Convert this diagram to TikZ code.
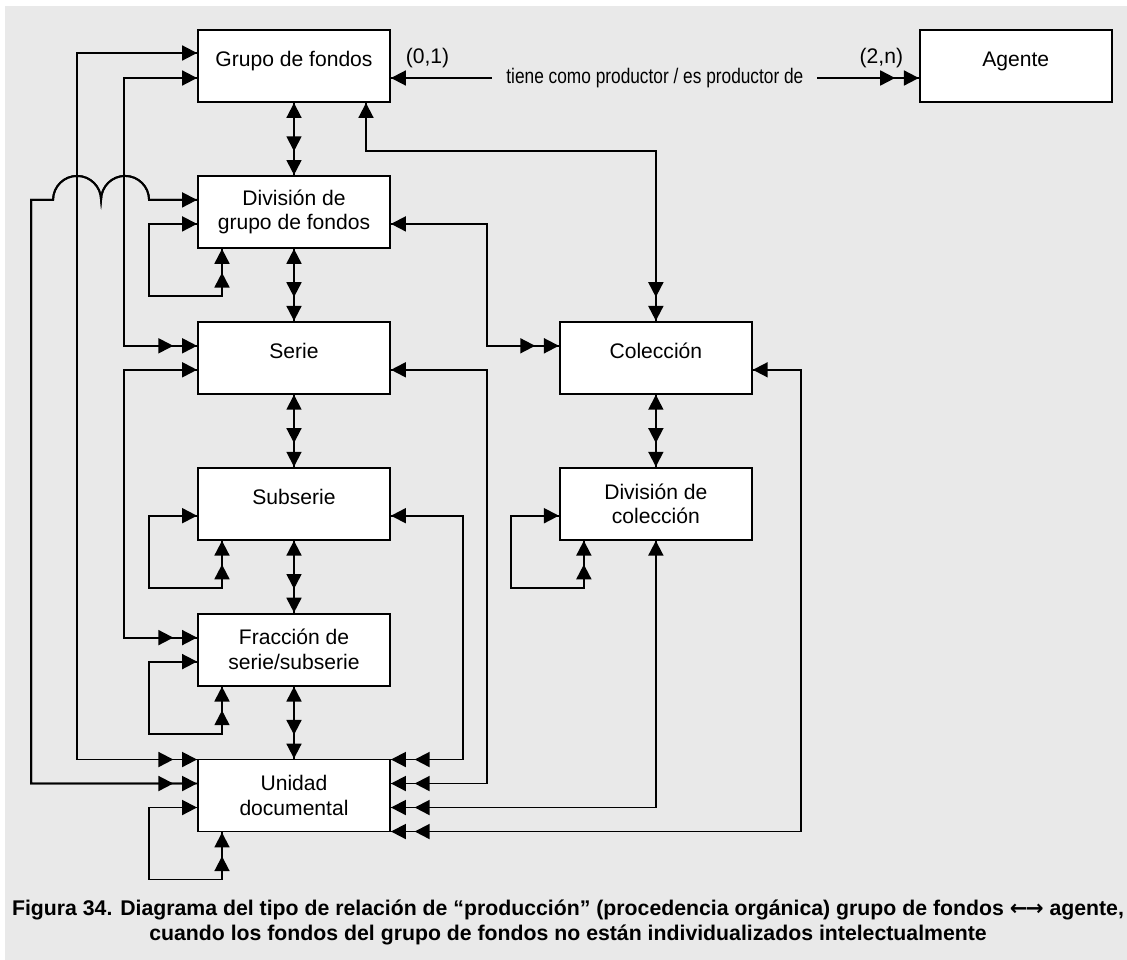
\documentclass[tikz,border=0pt]{standalone}
\usepackage{fontspec}
\setmainfont{Liberation Sans}
\newfontfamily\narrowfont[FakeStretch=0.82]{Liberation Sans}
\newfontfamily\arrowfont{DejaVu Sans}
\usetikzlibrary{arrows.meta,calc,positioning}
\definecolor{fgPanel}{RGB}{233,233,233}
\tikzset{
  one/.tip={Triangle[length=8.5pt,width=8.5pt]},
  many/.tip={Triangle[length=8.5pt,width=8.5pt,sep=5pt]Triangle[length=8.5pt,width=8.5pt]},
  box/.style={draw,fill=white,line width=1.1pt,minimum width=3.84cm,minimum height=1.44cm,
    inner sep=0pt,align=center,font=\fontsize{12}{14}\selectfont},
  oneline/.style={text height=8pt,text depth=7pt},
  link/.style={line width=1.1pt,one-many,postaction={draw,arrows=-}},
}

\begin{document}
\begin{tikzpicture}[x=0.02cm,y=-0.02cm,node distance=1.44cm]
  \useasboundingbox (0,0) rectangle (1127,960);
  \fill[fgPanel] (5,6) rectangle (1127,960);

  % entidades
  \node[box,oneline] (grupo) at (294,66) {Grupo de fondos};
  \node[box,below=of grupo] (divgrupo) {División de\\grupo de fondos};
  \node[box,oneline,below=of divgrupo] (serie) {Serie};
  \node[box,oneline,below=of serie] (subserie) {Subserie};
  \node[box,below=of subserie] (fraccion) {Fracción de\\serie/subserie};
  \node[box,below=of fraccion] (unidad) {Unidad\\documental};
  \node[box,oneline,right=3.36cm of serie] (coleccion) {Colección};
  \node[box,below=of coleccion] (divcoleccion) {División de\\colección};
  \node[box,oneline,right=10.56cm of grupo] (agente) {Agente};

  % jerarquia
  \foreach \a/\b in {grupo/divgrupo,divgrupo/serie,serie/subserie,subserie/fraccion,
                     fraccion/unidad,coleccion/divcoleccion}
    \draw[link] (\a) -- (\b);

  % relaciones recursivas
  \foreach \b in {divgrupo,subserie,fraccion,unidad,divcoleccion}
    \draw[link] ($(\b.west)+(0,12)$) -- ++(-48,0) -- ++(0,72) -| ($(\b.south)+(-72,0)$);

  % lado izquierdo
  \draw[link] ($(grupo.west)+(0,12)$) -- ++(-73,0) |- ($(serie.west)+(0,-12)$);
  \draw[link] ($(serie.west)+(0,12)$) -- ++(-73,0) |- ($(fraccion.west)+(0,-12)$);
  \draw[link] ($(grupo.west)+(0,-13)$) -- ++(-120,0) |- ($(unidad.west)+(0,-36)$);
  \draw[link] ($(divgrupo.west)+(0,-12)$) -- ++(-48,0)
    arc[start angle=0,end angle=180,radius=0.48cm]
    arc[start angle=0,end angle=180,radius=0.48cm]
    -- ++(-22,0) |- ($(unidad.west)+(0,-12)$);

  % lado derecho
  \draw[link] ($(grupo.south)+(72,0)$) -- ++(0,48) -| (coleccion.north);
  \draw[link] ($(divgrupo.east)+(0,12)$) -- ++(96,0) |- ($(coleccion.west)+(0,-12)$);
  \draw[link] ($(serie.east)+(0,12)$) -- ++(96,0) |- ($(unidad.east)+(0,-12)$);
  \draw[link] ($(subserie.east)+(0,12)$) -- ++(72,0) |- ($(unidad.east)+(0,-36)$);
  \draw[link] (divcoleccion.south) |- ($(unidad.east)+(0,12)$);
  \draw[link] ($(coleccion.east)+(0,12)$) -- ++(48,0) |- ($(unidad.east)+(0,36)$);

  % produccion
  \draw[link] ($(grupo.east)+(0,12)$) --
    node[fill=fgPanel,inner xsep=8pt,font=\narrowfont\fontsize{12}{14}\selectfont] (relacion)
      {tiene como productor / es productor de}
    node[at start,anchor=base west,xshift=0.16cm,yshift=0.3cm,font=\fontsize{12}{14}\selectfont] (card1) {(0,1)}
    node[at end,anchor=base east,xshift=-0.18cm,yshift=0.3cm,font=\fontsize{12}{14}\selectfont] (card2) {(2,n)}
    ($(agente.west)+(0,12)$);

  \node[align=center,font=\bfseries\fontsize{12.1}{14.2}\selectfont] (leyenda) at (568,922)
    {Figura 34. Diagrama del tipo de relación de “producción” (procedencia orgánica) grupo de fondos {\arrowfont←\kern-1pt→} agente,\\
     cuando los fondos del grupo de fondos no están individualizados intelectualmente};
\end{tikzpicture}
\end{document}
